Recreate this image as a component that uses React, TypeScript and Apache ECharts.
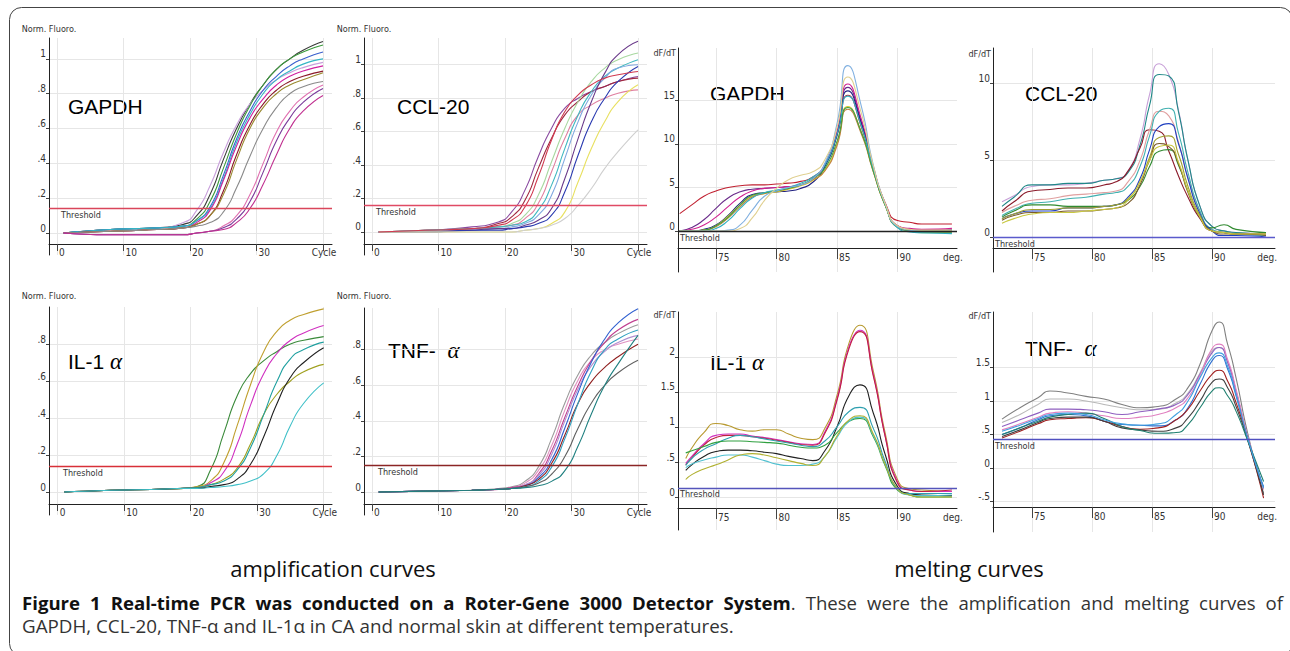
import React, { useEffect, useRef } from "react";
import * as echarts from "echarts";

// ---------- amplification curves (x = cycle) ----------
const ampCycles = [1, 8, 15, 19, 21, 23, 25, 27, 29, 31, 33, 35, 37, 40];
const ampTicks = [0, 10, 20, 30, 40];
const ampLabels = [0, 10, 20, 30];

const gapdhAmp: number[][] = [
  [0, 0.02, 0.03, 0.05, 0.1, 0.22, 0.42, 0.6, 0.74, 0.85, 0.94, 1.0, 1.05, 1.1],
  [0, 0.02, 0.03, 0.06, 0.13, 0.27, 0.46, 0.62, 0.74, 0.82, 0.88, 0.92, 0.95, 0.98],
  [0, 0.02, 0.03, 0.04, 0.08, 0.18, 0.37, 0.57, 0.73, 0.85, 0.94, 1.0, 1.04, 1.08],
  [0, 0.02, 0.03, 0.04, 0.07, 0.15, 0.33, 0.54, 0.7, 0.82, 0.9, 0.96, 1.0, 1.04],
  [0, 0.02, 0.03, 0.04, 0.07, 0.14, 0.31, 0.52, 0.68, 0.8, 0.88, 0.93, 0.97, 1.0],
  [0, 0.01, 0.02, 0.03, 0.06, 0.13, 0.3, 0.5, 0.66, 0.77, 0.85, 0.9, 0.93, 0.96],
  [0, 0.01, 0.02, 0.03, 0.05, 0.1, 0.24, 0.45, 0.62, 0.74, 0.82, 0.87, 0.9, 0.93],
  [0, 0.01, 0.02, 0.03, 0.05, 0.1, 0.22, 0.42, 0.6, 0.72, 0.8, 0.85, 0.88, 0.92],
  [0, 0.01, 0.02, 0.03, 0.04, 0.06, 0.12, 0.26, 0.44, 0.6, 0.72, 0.8, 0.84, 0.87],
  [0, -0.01, -0.01, -0.01, 0, 0.01, 0.04, 0.1, 0.22, 0.4, 0.58, 0.7, 0.78, 0.85],
  [0, -0.01, -0.01, -0.01, 0, 0.01, 0.03, 0.08, 0.18, 0.35, 0.53, 0.66, 0.75, 0.83],
  [0, -0.01, -0.01, -0.01, 0, 0.01, 0.02, 0.06, 0.14, 0.28, 0.45, 0.6, 0.7, 0.79],
];
const gapdhAmpColors = ["#3a3a3a", "#c9a0dc", "#3c9a3c", "#3a5fcd", "#35b5c5", "#d020a0", "#8b1a2a", "#9a8a30", "#8a8a8a", "#e070b0", "#7a3a9a", "#c03090"];

const cclAmp: number[][] = [
  [0, 0.01, 0.03, 0.06, 0.12, 0.25, 0.45, 0.62, 0.74, 0.8, 0.84, 0.87, 0.9, 0.93],
  [0, 0.01, 0.02, 0.05, 0.09, 0.19, 0.38, 0.56, 0.7, 0.78, 0.84, 0.87, 0.9, 0.92],
  [0, 0.01, 0.02, 0.03, 0.05, 0.1, 0.22, 0.42, 0.62, 0.78, 0.9, 0.98, 1.03, 1.07],
  [0, 0.01, 0.02, 0.03, 0.04, 0.08, 0.17, 0.36, 0.56, 0.7, 0.76, 0.8, 0.83, 0.85],
  [0, 0.01, 0.02, 0.03, 0.04, 0.06, 0.13, 0.28, 0.5, 0.7, 0.84, 0.93, 0.98, 1.03],
  [0, 0.0, 0.01, 0.02, 0.03, 0.05, 0.1, 0.22, 0.44, 0.66, 0.82, 0.92, 0.98, 1.0],
  [0, 0.0, 0.01, 0.02, 0.02, 0.04, 0.07, 0.14, 0.32, 0.56, 0.78, 0.95, 1.06, 1.14],
  [0, 0.0, 0.01, 0.01, 0.02, 0.03, 0.05, 0.1, 0.24, 0.46, 0.66, 0.8, 0.9, 0.99],
  [0, 0.0, 0.0, 0.0, 0.0, 0.01, 0.02, 0.05, 0.12, 0.3, 0.5, 0.66, 0.78, 0.88],
  [0, 0.0, 0.0, 0.0, 0.0, 0.01, 0.02, 0.04, 0.08, 0.16, 0.26, 0.38, 0.48, 0.61],
  [0, 0.01, 0.02, 0.04, 0.07, 0.15, 0.33, 0.55, 0.72, 0.82, 0.88, 0.92, 0.94, 0.96],
];
const cclAmpColors = ["#8a4aa0", "#a02840", "#a8d8a0", "#e080a0", "#40b8c0", "#80a8e0", "#6a3a8a", "#2a3ab0", "#e8e060", "#cfcfcf", "#d03a50"];

const il1Amp: number[][] = [
  [0, 0.01, 0.015, 0.02, 0.03, 0.12, 0.32, 0.52, 0.64, 0.71, 0.76, 0.8, 0.82, 0.84],
  [0, 0.01, 0.015, 0.02, 0.03, 0.06, 0.16, 0.36, 0.58, 0.76, 0.87, 0.93, 0.96, 0.99],
  [0, 0.01, 0.015, 0.02, 0.025, 0.05, 0.11, 0.26, 0.47, 0.64, 0.75, 0.82, 0.86, 0.9],
  [0, 0.01, 0.015, 0.02, 0.025, 0.04, 0.07, 0.13, 0.26, 0.42, 0.53, 0.6, 0.65, 0.69],
  [0, 0.01, 0.015, 0.02, 0.025, 0.04, 0.06, 0.12, 0.24, 0.42, 0.6, 0.72, 0.77, 0.81],
  [0, 0.01, 0.015, 0.02, 0.02, 0.03, 0.04, 0.07, 0.15, 0.3, 0.48, 0.62, 0.7, 0.78],
  [0, 0.01, 0.015, 0.02, 0.02, 0.025, 0.03, 0.04, 0.06, 0.1, 0.2, 0.36, 0.48, 0.59],
];
const il1AmpColors = ["#3a8a3a", "#c0a030", "#d030c0", "#a0a020", "#20a0a0", "#202020", "#40c0c8"];

const tnfAmp: number[][] = [
  [0, 0.005, 0.01, 0.02, 0.03, 0.06, 0.14, 0.3, 0.5, 0.66, 0.77, 0.84, 0.89, 0.94],
  [0, 0.005, 0.01, 0.015, 0.025, 0.05, 0.12, 0.26, 0.46, 0.63, 0.74, 0.8, 0.83, 0.86],
  [0, 0.005, 0.01, 0.015, 0.025, 0.04, 0.1, 0.23, 0.42, 0.6, 0.74, 0.84, 0.91, 0.97],
  [0, 0.005, 0.01, 0.015, 0.02, 0.04, 0.09, 0.21, 0.4, 0.58, 0.71, 0.79, 0.84, 0.88],
  [0, 0.005, 0.01, 0.015, 0.02, 0.035, 0.08, 0.18, 0.36, 0.56, 0.73, 0.86, 0.95, 1.03],
  [0, 0.005, 0.01, 0.015, 0.02, 0.035, 0.07, 0.16, 0.32, 0.5, 0.62, 0.7, 0.76, 0.83],
  [0, 0.005, 0.01, 0.015, 0.02, 0.03, 0.06, 0.14, 0.3, 0.5, 0.68, 0.8, 0.86, 0.91],
  [0, 0.005, 0.01, 0.015, 0.02, 0.03, 0.05, 0.1, 0.2, 0.36, 0.5, 0.6, 0.67, 0.74],
  [0, 0.005, 0.01, 0.015, 0.02, 0.025, 0.035, 0.06, 0.12, 0.26, 0.44, 0.6, 0.72, 0.88],
];
const tnfAmpColors = ["#9a9a9a", "#e090c0", "#c04090", "#b090d0", "#3060d0", "#902020", "#30a0c0", "#606060", "#208080"];

// ---------- melting curves (x = degrees) ----------
const meltTicks = [75, 80, 85, 90];

const gapdhMeltX = [72, 73, 74, 75, 76, 77, 78, 79, 80, 81, 82, 83, 84, 85, 85.9, 87, 88, 89, 90, 91, 92, 94.5];
const gapdhMelt: number[][] = [
  [2.0, 3.0, 4.0, 4.6, 5.0, 5.2, 5.3, 5.3, 5.4, 5.5, 5.7, 6.2, 7.6, 11.0, 15.6, 12.0, 7.2, 3.2, 1.2, 1.0, 0.8, 0.8],
  [0, 0.4, 1.3, 2.6, 3.8, 4.5, 4.8, 4.9, 5.0, 5.1, 5.3, 6.0, 7.6, 11.2, 16.5, 12.6, 7.3, 3.0, 0.6, 0.2, 0.1, 0.1],
  [0, 0.2, 0.7, 1.6, 2.8, 3.9, 4.6, 4.9, 5.0, 5.1, 5.3, 6.0, 7.7, 11.4, 16.9, 12.9, 7.4, 3.1, 0.6, 0.3, 0.2, 0.3],
  [0, 0, 0.2, 0.7, 1.8, 3.2, 4.2, 4.4, 4.5, 4.6, 4.9, 5.6, 7.4, 11.0, 16.1, 12.4, 7.2, 3.0, 0.5, 0.1, 0, 0.1],
  [0, 0, 0.1, 0.6, 1.7, 3.0, 4.0, 4.3, 4.5, 4.8, 5.2, 5.8, 7.0, 10.0, 14.3, 11.4, 6.9, 2.9, 0.5, 0.1, 0, 0],
  [0, 0, 0.1, 0.5, 1.5, 2.8, 3.9, 4.3, 4.6, 4.9, 5.3, 5.9, 6.9, 9.8, 14.0, 11.2, 6.8, 2.9, 0.5, 0.1, -0.1, -0.1],
  [0, 0, 0.1, 0.6, 1.6, 3.0, 4.1, 4.4, 4.6, 4.9, 5.3, 6.0, 7.2, 10.3, 14.2, 11.4, 6.9, 2.9, 0.4, 0, -0.2, -0.2],
  [0, 0, 0, 0.3, 1.2, 2.6, 3.8, 4.4, 4.7, 5.0, 5.5, 6.2, 7.6, 11.1, 15.5, 12.1, 7.2, 3.0, 0.4, -0.1, -0.2, -0.3],
  [0, 0, 0, 0, 0.1, 0.7, 2.4, 4.0, 4.6, 5.0, 5.3, 6.0, 7.8, 12.3, 19.0, 14.4, 7.6, 3.1, 0.5, 0.1, 0, 0],
  [0, 0, 0, 0, 0, 0.3, 1.5, 3.5, 4.9, 5.9, 6.4, 6.8, 8.2, 11.9, 17.7, 13.6, 7.5, 3.1, 0.6, 0.2, 0.1, 0.1],
];
const gapdhMeltColors = ["#c02030", "#6a2a8a", "#d02090", "#202080", "#d8c830", "#c08040", "#40a040", "#30b0c0", "#80b0e0", "#e0d090"];

const cclMeltX = [72.5, 73.5, 75, 76.5, 78, 79.5, 81, 82, 83, 84, 84.8, 85.6, 86.4, 87.2, 88, 89, 90, 91, 92, 94.5];
const cclMelt: number[][] = [
  [2.3, 2.7, 3.3, 3.4, 3.4, 3.5, 3.7, 3.8, 4.3, 6.4, 9.3, 11.3, 10.6, 8.3, 5.0, 2.0, 0.7, 0.4, 0.3, 0.2],
  [2.0, 2.6, 3.4, 3.4, 3.5, 3.5, 3.7, 3.8, 4.2, 6.0, 8.6, 10.6, 10.5, 8.2, 5.0, 2.0, 0.7, 0.4, 0.3, 0.2],
  [1.7, 2.3, 3.0, 3.1, 3.2, 3.2, 3.4, 3.6, 4.3, 5.8, 7.0, 6.9, 5.6, 4.0, 2.6, 1.2, 0.4, 0.3, 0.2, 0.2],
  [1.6, 2.0, 2.4, 2.5, 2.7, 2.8, 2.9, 3.0, 3.6, 5.0, 7.0, 8.2, 7.9, 6.2, 3.9, 1.6, 0.5, 0.3, 0.2, 0.2],
  [1.4, 1.8, 2.2, 2.3, 2.5, 2.6, 2.8, 2.9, 3.3, 4.6, 6.6, 8.2, 8.4, 6.8, 4.2, 1.7, 0.5, 0.3, 0.2, 0.1],
  [1.3, 1.7, 2.1, 2.1, 2.0, 2.0, 2.0, 2.1, 2.4, 3.3, 4.6, 5.6, 5.7, 4.7, 3.0, 1.3, 0.6, 0.8, 0.5, 0.3],
  [1.2, 1.5, 1.7, 1.7, 1.9, 1.9, 2.0, 2.1, 2.6, 3.8, 5.7, 7.2, 7.4, 6.1, 3.8, 1.5, 0.4, 0.1, 0.1, 0.0],
  [1.2, 1.5, 1.8, 1.8, 1.9, 1.9, 2.0, 2.1, 2.5, 3.6, 5.2, 6.5, 6.6, 5.4, 3.3, 1.4, 0.4, 0.3, 0.2, 0.2],
  [1.1, 1.4, 1.6, 1.6, 1.7, 1.7, 1.8, 1.9, 2.2, 3.4, 5.0, 6.1, 5.9, 4.8, 2.9, 1.3, 0.4, 0.2, 0.2, 0.1],
  [0.9, 1.2, 1.5, 1.6, 1.6, 1.7, 1.8, 1.9, 2.4, 3.6, 5.0, 5.9, 6.0, 4.9, 3.0, 1.3, 0.4, 0.3, 0.2, 0.2],
];
const cclMeltColors = ["#c8a0d8", "#208888", "#8a1a2a", "#e0a0a0", "#40b0b0", "#308a30", "#2040c0", "#a0a030", "#7a5a2a", "#c8c840"];

const il1MeltX = [72.5, 73, 74, 75, 76, 77, 78, 79, 80, 81, 82, 83, 84, 85, 86, 86.9, 88, 89, 90, 91, 92, 94.5];
const il1Melt: number[][] = [
  [0.55, 0.7, 0.92, 1.05, 1.02, 0.96, 0.94, 0.96, 0.96, 0.9, 0.84, 0.82, 0.98, 1.45, 2.2, 2.45, 1.8, 0.9, 0.25, 0.12, 0.1, 0.08],
  [0.48, 0.58, 0.76, 0.88, 0.9, 0.9, 0.87, 0.85, 0.82, 0.79, 0.76, 0.75, 0.93, 1.4, 2.15, 2.38, 1.75, 0.86, 0.22, 0.1, 0.08, 0.08],
  [0.46, 0.56, 0.74, 0.85, 0.88, 0.88, 0.86, 0.84, 0.81, 0.78, 0.75, 0.74, 0.91, 1.38, 2.12, 2.36, 1.73, 0.85, 0.2, 0.1, 0.08, 0.1],
  [0.38, 0.46, 0.58, 0.65, 0.67, 0.67, 0.66, 0.64, 0.62, 0.58, 0.55, 0.52, 0.66, 1.0, 1.45, 1.6, 1.2, 0.6, 0.15, 0.05, 0.03, 0.02],
  [0.45, 0.55, 0.68, 0.76, 0.84, 0.88, 0.86, 0.83, 0.8, 0.77, 0.74, 0.72, 0.8, 1.0, 1.22, 1.28, 0.98, 0.5, 0.12, 0.05, 0.05, 0.05],
  [0.63, 0.66, 0.72, 0.78, 0.8, 0.8, 0.79, 0.78, 0.77, 0.74, 0.71, 0.7, 0.74, 0.92, 1.08, 1.12, 0.86, 0.44, 0.1, 0.03, 0.0, 0.0],
  [0.42, 0.47, 0.53, 0.57, 0.6, 0.6, 0.57, 0.52, 0.47, 0.45, 0.45, 0.47, 0.58, 0.85, 1.08, 1.14, 0.88, 0.46, 0.12, 0.03, 0.02, 0.03],
  [0.25, 0.32, 0.4, 0.46, 0.53, 0.6, 0.62, 0.6, 0.56, 0.52, 0.48, 0.45, 0.58, 0.87, 1.1, 1.16, 0.9, 0.46, 0.12, 0.03, 0.0, 0.0],
];
const il1MeltColors = ["#b89a30", "#d030c0", "#c02040", "#202020", "#30a0b0", "#30a040", "#50c0d0", "#b0b030"];

const tnfMeltX = [72.5, 74, 75.5, 76.5, 78, 79.5, 81, 82.5, 84, 85.5, 87, 88, 89, 90, 90.6, 91.3, 92, 93, 94.3];
const tnfMelt: number[][] = [
  [0.73, 0.9, 1.05, 1.15, 1.12, 1.07, 1.03, 0.95, 0.9, 0.92, 1.03, 1.2, 1.55, 2.05, 2.18, 1.85, 1.35, 0.5, -0.38],
  [0.68, 0.8, 0.95, 1.03, 1.03, 1.0, 0.95, 0.9, 0.87, 0.88, 0.97, 1.12, 1.42, 1.75, 1.8, 1.58, 1.15, 0.45, -0.3],
  [0.62, 0.72, 0.82, 0.88, 0.88, 0.87, 0.84, 0.8, 0.84, 0.88, 0.95, 1.1, 1.4, 1.72, 1.8, 1.58, 1.15, 0.45, -0.3],
  [0.57, 0.66, 0.76, 0.82, 0.84, 0.82, 0.78, 0.74, 0.76, 0.8, 0.9, 1.05, 1.38, 1.78, 1.85, 1.62, 1.18, 0.45, -0.32],
  [0.5, 0.6, 0.72, 0.78, 0.8, 0.78, 0.7, 0.65, 0.64, 0.63, 0.72, 0.9, 1.25, 1.6, 1.68, 1.48, 1.08, 0.42, -0.28],
  [0.45, 0.55, 0.66, 0.72, 0.74, 0.75, 0.7, 0.62, 0.58, 0.6, 0.72, 0.88, 1.15, 1.4, 1.46, 1.3, 0.98, 0.42, -0.45],
  [0.47, 0.57, 0.68, 0.74, 0.76, 0.76, 0.7, 0.6, 0.57, 0.55, 0.6, 0.75, 1.0, 1.28, 1.33, 1.2, 0.92, 0.4, -0.4],
  [0.5, 0.6, 0.7, 0.76, 0.8, 0.82, 0.74, 0.62, 0.56, 0.52, 0.53, 0.65, 0.9, 1.15, 1.2, 1.08, 0.85, 0.4, -0.2],
  [0.55, 0.64, 0.74, 0.8, 0.82, 0.8, 0.72, 0.66, 0.64, 0.66, 0.8, 1.0, 1.35, 1.65, 1.72, 1.52, 1.1, 0.43, -0.3],
];
const tnfMeltColors = ["#808080", "#b8b8b8", "#9060c0", "#e080c0", "#3070d0", "#a02020", "#404040", "#208070", "#40a0e0"];

// thresholds
const thresholds = [0.138, 0.156, 0, 0, 0.135, 0.15, 0.13, 0.43];
const thresholdColors = ["#d9455a", "#e04a64", "#222222", "#5a5acc", "#d83038", "#8b2525", "#5555bb", "#5050c0"];

const yTickSets = [
  [0, 0.2, 0.4, 0.6, 0.8, 1],
  [0, 0.2, 0.4, 0.6, 0.8, 1],
  [0, 5, 10, 15],
  [0, 5, 10],
  [0, 0.2, 0.4, 0.6, 0.8],
  [0, 0.2, 0.4, 0.6, 0.8],
  [0, 0.5, 1, 1.5, 2],
  [-0.5, 0, 0.5, 1, 1.5],
];

// caption words (first line is justified)
const captionBoldWords = ["Figure", "1", "Real-time", "PCR", "was", "conducted", "on", "a", "Roter-Gene", "3000", "Detector", "System"];
const captionRegularWords = [".", "These", "were", "the", "amplification", "and", "melting", "curves", "of"];
const captionLine2 = "GAPDH, CCL-20, TNF-α and IL-1α in CA and normal skin at different temperatures.";

const AX_FONT = "'Liberation Sans Narrow','Arial Narrow','DejaVu Sans Condensed','Liberation Sans',sans-serif";
const SANS = "'Liberation Sans', Arial, sans-serif";
const CAP_FONT = "'Open Sans', sans-serif";
const CAP_SIZE = 18.6;

function fmtY(v: number) {
  if (v === 0) return "0";
  const s = String(v);
  return s.replace(/^0\./, ".").replace(/^-0\./, "-.");
}

function justifiedLine(left: number, right: number, y: number): any[] {
  const canvas = document.createElement("canvas");
  const ctx = canvas.getContext("2d");
  const boldFont = `bold ${CAP_SIZE}px 'Open Sans', sans-serif`;
  const regFont = `${CAP_SIZE}px 'Open Sans', sans-serif`;
  const measure = (t: string, f: string) => {
    if (!ctx) return t.length * CAP_SIZE * 0.55;
    ctx.font = f;
    return ctx.measureText(t).width;
  };
  const tokens: { t: string; bold: boolean; attach: boolean }[] = [];
  captionBoldWords.forEach((w) => tokens.push({ t: w, bold: true, attach: false }));
  captionRegularWords.forEach((w, i) => tokens.push({ t: w, bold: false, attach: i === 0 }));
  const widths = tokens.map((tk) => measure(tk.t, tk.bold ? boldFont : regFont));
  const total = widths.reduce((a, b) => a + b, 0);
  const gaps = tokens.filter((tk, i) => i > 0 && !tk.attach).length;
  const gap = (right - left - total) / gaps;
  const out: any[] = [];
  let x = left;
  tokens.forEach((tk, i) => {
    if (i > 0 && !tk.attach) x += gap;
    out.push({
      type: "text",
      x,
      y,
      style: {
        text: tk.t,
        fontSize: CAP_SIZE,
        fontWeight: tk.bold ? "bold" : "normal",
        fontFamily: CAP_FONT,
        fill: tk.bold ? "#111" : "#333",
        align: "left",
        verticalAlign: "middle",
      },
    });
    x += widths[i];
  });
  return out;
}

export default function App() {
  const ref = useRef<HTMLDivElement>(null);

  useEffect(() => {
    if (!ref.current) return;
    const chart = echarts.init(ref.current, undefined, { renderer: "svg" });

    const amp = { tickLen: 7, endLabel: "Cycle", endValue: 38, ticks: ampTicks, labels: ampLabels, yName: "Norm. Fluoro.", labelMargin: 3 };
    const melt = { tickLen: 11, endLabel: "deg.", endValue: 93.6, ticks: meltTicks, labels: meltTicks, yName: "dF/dT", labelMargin: 4 };

    const panels = [
      { ...amp, left: 49, top: 38, width: 283, height: 217, xMin: -1.2, xMax: 41.35, yMin: -0.126, yMax: 1.12, xOffset: -11, xs: ampCycles, curves: gapdhAmp, colors: gapdhAmpColors, nameGap: 5, thrPad: 10 },
      { ...amp, left: 364, top: 38, width: 283, height: 217, xMin: -1.2, xMax: 41.35, yMin: -0.138, yMax: 1.16, xOffset: -11, xs: ampCycles, curves: cclAmp, colors: cclAmpColors, nameGap: 5, thrPad: 10 },
      { ...melt, left: 678, top: 48, width: 279, height: 224, xMin: 71.86, xMax: 94.92, yMin: -4.71, yMax: 21.03, xOffset: -24, xs: gapdhMeltX, curves: gapdhMelt, colors: gapdhMeltColors, nameGap: -5, thrPad: 0 },
      { ...melt, left: 993, top: 48, width: 282, height: 224, xMin: 71.75, xMax: 95.25, yMin: -2.28, yMax: 12.33, xOffset: -24, xs: cclMeltX, curves: cclMelt, colors: cclMeltColors, nameGap: -6, thrPad: 0 },
      { ...amp, left: 49, top: 307, width: 283, height: 208, xMin: -1.3, xMax: 41.25, yMin: -0.124, yMax: 1.0, xOffset: -11, xs: ampCycles, curves: il1Amp, colors: il1AmpColors, nameGap: 7, thrPad: 12 },
      { ...amp, left: 364, top: 308, width: 283, height: 207, xMin: -1.2, xMax: 41.35, yMin: -0.129, yMax: 1.034, xOffset: -11, xs: ampCycles, curves: tnfAmp, colors: tnfAmpColors, nameGap: 8, thrPad: 12 },
      { ...melt, left: 678, top: 312, width: 279, height: 218, xMin: 71.86, xMax: 94.92, yMin: -0.47, yMax: 2.64, xOffset: -22, xs: il1MeltX, curves: il1Melt, colors: il1MeltColors, nameGap: -3, thrPad: 0 },
      { ...melt, left: 993, top: 312, width: 282, height: 220, xMin: 71.75, xMax: 95.25, yMin: -0.955, yMax: 2.33, xOffset: -25, xs: tnfMeltX, curves: tnfMelt, colors: tnfMeltColors, nameGap: -4, thrPad: 0 },
    ];

    const grid = panels.map((p) => ({ left: p.left, top: p.top, width: p.width, height: p.height, containLabel: false }));

    const xAxis = panels.map((p, i) => ({
      type: "value",
      gridIndex: i,
      min: p.xMin,
      max: p.xMax,
      position: "bottom",
      offset: p.xOffset,
      axisLine: { show: true, onZero: false, lineStyle: { color: "#222", width: 1 } },
      axisTick: { show: true, length: p.tickLen, customValues: p.ticks, lineStyle: { color: "#444", width: 1 } },
      axisLabel: {
        show: true,
        customValues: [...p.labels, p.endValue],
        formatter: (v: number) => (Math.abs(v - p.endValue) < 1e-6 ? p.endLabel : String(v)),
        align: "left",
        margin: p.labelMargin,
        padding: [0, 0, 0, 2],
        fontSize: 10,
        fontFamily: AX_FONT,
        color: "#333",
      },
      splitLine: { show: true, lineStyle: { color: "#e6e6e6", width: 1 } },
    }));

    const yAxis = panels.map((p, i) => ({
      type: "value",
      gridIndex: i,
      min: p.yMin,
      max: p.yMax,
      position: "left",
      axisLine: { show: true, onZero: false, lineStyle: { color: "#222", width: 1 } },
      axisTick: { show: true, length: 3, customValues: yTickSets[i], lineStyle: { color: "#444" } },
      axisLabel: {
        show: true,
        customValues: yTickSets[i],
        formatter: fmtY,
        margin: 3,
        verticalAlign: "bottom",
        fontSize: 10,
        fontFamily: AX_FONT,
        color: "#333",
      },
      splitLine: { show: true, lineStyle: { color: "#e6e6e6", width: 1 } },
      name: p.yName,
      nameLocation: "end",
      nameGap: p.nameGap,
      nameTextStyle:
        p.yName === "dF/dT"
          ? { fontSize: 9, fontFamily: AX_FONT, color: "#333", align: "right", verticalAlign: "middle", padding: [0, 2, 0, 0] }
          : { fontSize: 9, fontFamily: AX_FONT, color: "#333", align: "center", verticalAlign: "bottom" },
    }));

    const series: any[] = [];
    panels.forEach((p, i) => {
      p.curves.forEach((ys, k) => {
        const s: any = {
          type: "line",
          xAxisIndex: i,
          yAxisIndex: i,
          data: p.xs.map((x, j) => [x, ys[j]]),
          smooth: 0.6,
          showSymbol: false,
          silent: true,
          lineStyle: { width: 1.1, color: p.colors[k % p.colors.length] },
          itemStyle: { color: p.colors[k % p.colors.length] },
          z: 2,
        };
        if (k === 0) {
          s.markLine = {
            silent: true,
            symbol: ["none", "none"],
            animation: false,
            data: [{ yAxis: thresholds[i] }],
            lineStyle: { color: thresholdColors[i], width: 1.4, type: "solid" },
            label: {
              show: true,
              position: "insideStartBottom",
              formatter: "Threshold",
              fontSize: 9,
              fontFamily: AX_FONT,
              color: "#333",
              distance: 2,
              padding: [0, 0, 0, p.thrPad],
            },
          };
        }
        series.push(s);
      });
    });

    const titleStyle = { fontSize: 21, fontFamily: SANS, fill: "#000", verticalAlign: "middle", align: "left" };
    const richAlpha = {
      a: { fontSize: 21, fontFamily: SANS, color: "#000" },
      b: { fontSize: 23, fontFamily: "'Liberation Serif', 'DejaVu Serif', serif", fontStyle: "italic", color: "#000" },
    };

    const graphic: any[] = [
      { type: "rect", silent: true, z: -1, shape: { x: 9.5, y: 7.5, width: 1283, height: 648, r: 12 }, style: { fill: null, stroke: "#444", lineWidth: 1 } },
      { type: "text", x: 68, y: 106, style: { ...titleStyle, text: "GAPDH" } },
      { type: "text", x: 397, y: 106, style: { ...titleStyle, text: "CCL-20" } },
      { type: "text", x: 710, y: 93, style: { ...titleStyle, text: "GAPDH" } },
      { type: "text", x: 1025, y: 93, style: { ...titleStyle, text: "CCL-20" } },
      { type: "text", x: 68, y: 361, style: { verticalAlign: "middle", align: "left", text: "{a|IL-1 }{b|α}", rich: richAlpha } },
      { type: "text", x: 388, y: 350, style: { verticalAlign: "middle", align: "left", text: "{a|TNF-  }{b|α}", rich: richAlpha } },
      { type: "text", x: 710, y: 362, style: { verticalAlign: "middle", align: "left", text: "{a|IL-1 }{b|α}", rich: richAlpha } },
      { type: "text", x: 1025, y: 348, style: { verticalAlign: "middle", align: "left", text: "{a|TNF-  }{b|α}", rich: richAlpha } },
      { type: "text", x: 333, y: 568, style: { text: "amplification curves", fontSize: 22, fontFamily: CAP_FONT, fill: "#111", align: "center", verticalAlign: "middle" } },
      { type: "text", x: 969, y: 568, style: { text: "melting curves", fontSize: 22, fontFamily: CAP_FONT, fill: "#111", align: "center", verticalAlign: "middle" } },
      ...justifiedLine(22, 1283, 602),
      { type: "text", x: 22, y: 626, style: { text: captionLine2, fontSize: CAP_SIZE + 0.2, fontFamily: CAP_FONT, fill: "#333", align: "left", verticalAlign: "middle" } },
    ];

    chart.setOption({
      animation: false,
      backgroundColor: "#ffffff",
      grid,
      xAxis,
      yAxis,
      series,
      graphic,
    });

    return () => chart.dispose();
  }, []);

  return <div ref={ref} style={{ position: "absolute", left: 0, top: 0, width: 1290, height: 651 }} />;
}
